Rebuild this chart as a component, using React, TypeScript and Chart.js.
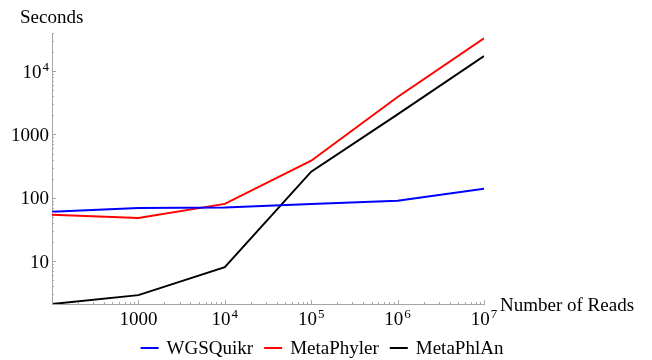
import { useEffect, useRef } from "react";
import { Chart, registerables } from "chart.js";
Chart.register(...registerables);

const reads = [100, 1000, 1e4, 1e5, 1e6, 1e7];
const wgsQuikr = [60, 69, 70, 80, 90, 139];
const metaPhyler = [54, 48, 80, 385, 3900, 33000];
const metaPhlAn = [2.1, 2.9, 8, 258, 2070, 17300];
const seriesNames = ["WGSQuikr", "MetaPhyler", "MetaPhlAn"];
const seriesColors = ["#0000ff", "#ff0000", "#000000"];
const xTickValues = [1000, 1e4, 1e5, 1e6, 1e7];
const xTickLabels: [string, string][] = [["1000", ""], ["10", "4"], ["10", "5"], ["10", "6"], ["10", "7"]];
const yTickValues = [10, 100, 1000, 1e4];
const yTickLabels: [string, string][] = [["10", ""], ["100", ""], ["1000", ""], ["10", "4"]];
const xTitle = "Number of Reads";
const yTitle = "Seconds";

const FONT = "'Liberation Serif', 'DejaVu Serif', serif";
const AXIS = "#a6a6a6";

function labelWidth(ctx: CanvasRenderingContext2D, base: string, exp: string) {
  ctx.font = `19px ${FONT}`;
  let w = ctx.measureText(base).width;
  if (exp) {
    ctx.font = `13px ${FONT}`;
    w += 1 + ctx.measureText(exp).width;
  }
  return w;
}

function drawLabel(ctx: CanvasRenderingContext2D, base: string, exp: string, x: number, baseline: number) {
  ctx.textAlign = "left";
  ctx.textBaseline = "alphabetic";
  ctx.fillStyle = "#000";
  ctx.font = `19px ${FONT}`;
  ctx.fillText(base, x, baseline);
  if (exp) {
    const bw = ctx.measureText(base).width;
    ctx.font = `13px ${FONT}`;
    ctx.fillText(exp, x + bw + 1, baseline - 7);
  }
}

const decorPlugin = {
  id: "decor",
  afterDraw(chart: any) {
    const ctx: CanvasRenderingContext2D = chart.ctx;
    const xs = chart.scales.x;
    const ys = chart.scales.y;
    const area = chart.chartArea;
    ctx.save();
    // tick marks
    ctx.strokeStyle = AXIS;
    ctx.lineWidth = 1;
    for (let d = 1; d <= 1e4; d *= 10) {
      for (let m = 1; m <= 9; m++) {
        const v = m * d;
        if (v < ys.min || v > ys.max) continue;
        const py = Math.round(ys.getPixelForValue(v)) + 0.5;
        const len = m === 1 ? 4 : 2;
        ctx.beginPath();
        ctx.moveTo(area.left, py);
        ctx.lineTo(area.left + len, py);
        ctx.stroke();
      }
    }
    for (let d = 100; d <= 1e7; d *= 10) {
      for (let m = 1; m <= 9; m++) {
        const v = m * d;
        if (v < xs.min || v > xs.max) continue;
        const px = Math.round(xs.getPixelForValue(v)) + 0.5;
        const len = m === 1 ? 4 : 2;
        ctx.beginPath();
        ctx.moveTo(px, area.bottom);
        ctx.lineTo(px, area.bottom - len);
        ctx.stroke();
      }
    }
    // y labels
    yTickValues.forEach((v, i) => {
      const [b, e] = yTickLabels[i];
      const py = ys.getPixelForValue(v);
      const w = labelWidth(ctx, b, e);
      drawLabel(ctx, b, e, area.left - 3 - w, py + 6.5);
    });
    // x labels
    xTickValues.forEach((v, i) => {
      const [b, e] = xTickLabels[i];
      const px = xs.getPixelForValue(v);
      const w = labelWidth(ctx, b, e);
      drawLabel(ctx, b, e, px - w / 2, area.bottom + 21);
    });
    // titles
    ctx.font = `19px ${FONT}`;
    ctx.fillStyle = "#000";
    ctx.textAlign = "left";
    ctx.textBaseline = "alphabetic";
    ctx.fillText(yTitle, 20, 23);
    ctx.fillText(xTitle, area.right + 16, area.bottom + 7);
    // legend
    const ds = chart.data.datasets;
    ctx.font = `19px ${FONT}`;
    const sw = 18, gapA = 8, gapB = 11;
    let total = 0;
    ds.forEach((d: any, i: number) => {
      total += sw + gapA + ctx.measureText(d.label).width + (i < ds.length - 1 ? gapB : 0);
    });
    let lx = 322 - total / 2;
    const ly = 348;
    ds.forEach((d: any) => {
      ctx.strokeStyle = d.borderColor;
      ctx.lineWidth = 2;
      ctx.beginPath();
      ctx.moveTo(lx, ly);
      ctx.lineTo(lx + sw, ly);
      ctx.stroke();
      lx += sw + gapA;
      ctx.fillStyle = "#000";
      ctx.fillText(d.label, lx, ly + 6);
      lx += ctx.measureText(d.label).width + gapB;
    });
    ctx.restore();
  },
};

export default function App() {
  const ref = useRef<HTMLCanvasElement>(null);
  useEffect(() => {
    if (!ref.current) return;
    const series = [wgsQuikr, metaPhyler, metaPhlAn];
    const chart = new Chart(ref.current, {
      type: "line",
      data: {
        datasets: series.map((vals, i) => ({
          label: seriesNames[i],
          data: reads.map((r, j) => ({ x: r, y: vals[j] })),
          borderColor: seriesColors[i],
          backgroundColor: seriesColors[i],
          borderWidth: 2,
          pointRadius: 0,
          tension: 0,
          fill: false,
        })),
      },
      options: {
        responsive: false,
        animation: false,
        layout: { padding: { left: 52, right: 168, top: 33, bottom: 56 } },
        plugins: { legend: { display: false }, tooltip: { enabled: false } },
        scales: {
          x: {
            type: "logarithmic",
            min: 100,
            max: 1e7,
            ticks: { display: false },
            grid: { display: false, drawTicks: false },
            border: { display: true, color: AXIS, width: 1 },
          },
          y: {
            type: "logarithmic",
            min: 2.1,
            max: 40000,
            ticks: { display: false },
            grid: { display: false, drawTicks: false },
            border: { display: true, color: AXIS, width: 1 },
          },
        },
      },
      plugins: [decorPlugin],
    });
    return () => chart.destroy();
  }, []);
  return (
    <div style={{ position: "fixed", left: 0, top: 0, width: 652, height: 360, background: "#fff" }}>
      <canvas ref={ref} width={652} height={360} style={{ width: 652, height: 360, display: "block" }} />
    </div>
  );
}
